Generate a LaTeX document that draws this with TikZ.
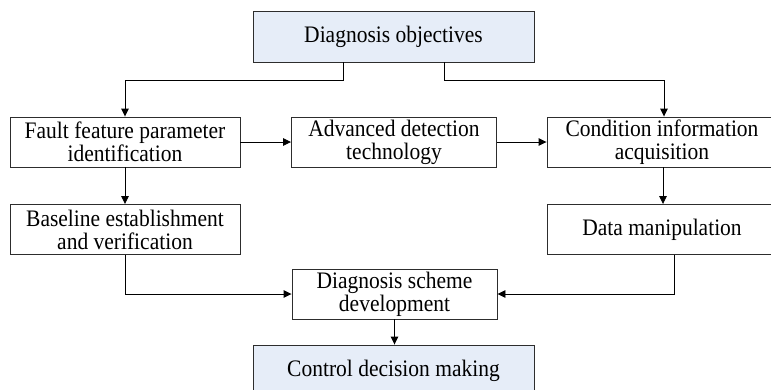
\documentclass[tikz,border=0pt]{standalone}
\usepackage{fontspec}
\setmainfont{Liberation Serif}
\usepackage{graphicx}
\usepackage{tikz}
\usetikzlibrary{arrows.meta}
\definecolor{dblue}  {RGB}{230,237,248}
\definecolor{dgray}  {RGB}{45,45,45}
\newcommand{\stxt}[1]{\scalebox{1}[1.1]{#1}}
\tikzset{
    stage/.style={draw=dgray, line width=0.9pt, align=center, inner sep=0pt,
             minimum width=230pt, minimum height=50pt,
             font=\fontsize{21.5}{23}\selectfont},
    midstage/.style={stage, minimum width=205pt},
    goal/.style={stage, fill=dblue, minimum width=281pt, minimum height=51pt},
    link/.style={draw=black, line width=0.9pt,
             -{Triangle[length=8pt,width=7.5pt]}}
  }

\begin{document}
\begin{tikzpicture}[x=1pt, y=-1pt]
 \useasboundingbox (0,0) rectangle (771,389);
 \clip (0,0) rectangle (771,389);
 %Objectives and decision
     \node[goal] (obj) at (393.5,36.5) {\stxt{Diagnosis objectives}};
     \node[goal] (ctrl) at (393.5,370.5) {\stxt{Control decision making}};
 %Left column
     \node[stage] (fault) at (125,142) {\stxt{Fault feature parameter}\\\stxt{identification}};
     \node[stage] (base) at (125,229.5) {\stxt{Baseline establishment}\\\stxt{and verification}};
 %Middle column
     \node[midstage] (adv) at (394,142) {\stxt{Advanced detection}\\\stxt{technology}};
     \node[midstage] (scheme) at (394.5,294) {\stxt{Diagnosis scheme}\\\stxt{development}};
 %Right column
     \node[stage] (cond) at (662,142) {\stxt{Condition information}\\\stxt{acquisition}};
     \node[stage] (data) at (662,229.5) {\stxt{Data manipulation}};
 %Objectives to both sides
     \draw[link] ([xshift=-50.5pt]obj.south) -- ++(0,18) -| (fault.north);
     \draw[link] ([xshift=50.5pt]obj.south) -- ++(0,18) -| ([xshift=2pt]cond.north);
 %Upper row
     \draw[link] (fault.east) -- (adv.west);
     \draw[link] (adv.east) -- (cond.west);
     \draw[link] (fault.south) -- (base.north);
     \draw[link] ([xshift=1pt]cond.south) -- ([xshift=1pt]data.north);
 %Into the scheme
     \draw[link] (base.south) |- (scheme.west);
     \draw[link] ([xshift=12pt]data.south) |- (scheme.east);
     \draw[link] (scheme.south) -- (scheme.south |- ctrl.north);
 \end{tikzpicture}
\end{document}
